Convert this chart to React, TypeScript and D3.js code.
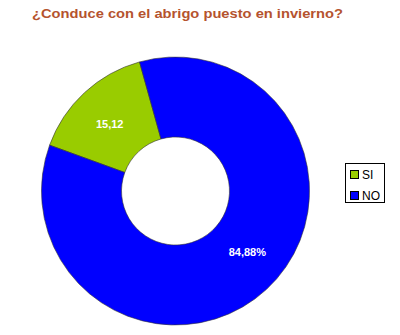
import React from "react";
import * as d3 from "d3";

const categories = ["SI", "NO"];
const values = [15.12, 84.88];
const labels = ["15,12", "84,88%"];
const colors = ["#99cc00", "#0000ff"];
const title = "¿Conduce con el abrigo puesto en invierno?";

export default function App() {
  const W = 400, H = 335;
  const cx = 175.5, cy = 191, outerR = 134, innerR = 54;
  const start = (-70 * Math.PI) / 180;
  const pie = d3.pie<number>().sort(null).startAngle(start).endAngle(start + 2 * Math.PI);
  const arcs = pie(values);
  const arcGen = d3.arc<d3.PieArcDatum<number>>().innerRadius(innerR).outerRadius(outerR);
  const labelArc = d3.arc<d3.PieArcDatum<number>>().innerRadius(94).outerRadius(94);
  const labelOffsets = [[-2, 2], [8, -8]];
  return (
    <svg width={W} height={H} style={{ position: "absolute", left: 0, top: 0, background: "#fff" }}
      fontFamily="'Liberation Sans', Arial, sans-serif">
      <text x={32} y={18} fontSize={13.5} fontWeight="bold" fill="#b5532e" textLength={311} lengthAdjust="spacingAndGlyphs">{title}</text>
      <g transform={`translate(${cx},${cy})`}>
        {arcs.map((a, i) => (
          <path key={i} d={arcGen(a) || ""} fill={colors[i]} stroke="#333" strokeWidth={0.6} />
        ))}
        {arcs.map((a, i) => {
          const [x, y] = labelArc.centroid(a);
          return (
            <text key={"l" + i} x={x + labelOffsets[i][0]} y={y + labelOffsets[i][1]} fill="#fff" fontSize={11}
              fontWeight="bold" textAnchor="middle" dominantBaseline="central">{labels[i]}</text>
          );
        })}
      </g>
      <g>
        <rect x={345.5} y={163.5} width={39} height={39} fill="#fff" stroke="#000" strokeWidth={1} />
        {categories.map((c, i) => (
          <g key={c} transform={`translate(350,${170 + i * 21})`}>
            <rect x={0.5} y={0.5} width={8} height={8} fill={colors[i]} stroke="#000" strokeWidth={1} />
            <text x={12} y={9} fontSize={12} fill="#000">{c}</text>
          </g>
        ))}
      </g>
    </svg>
  );
}
